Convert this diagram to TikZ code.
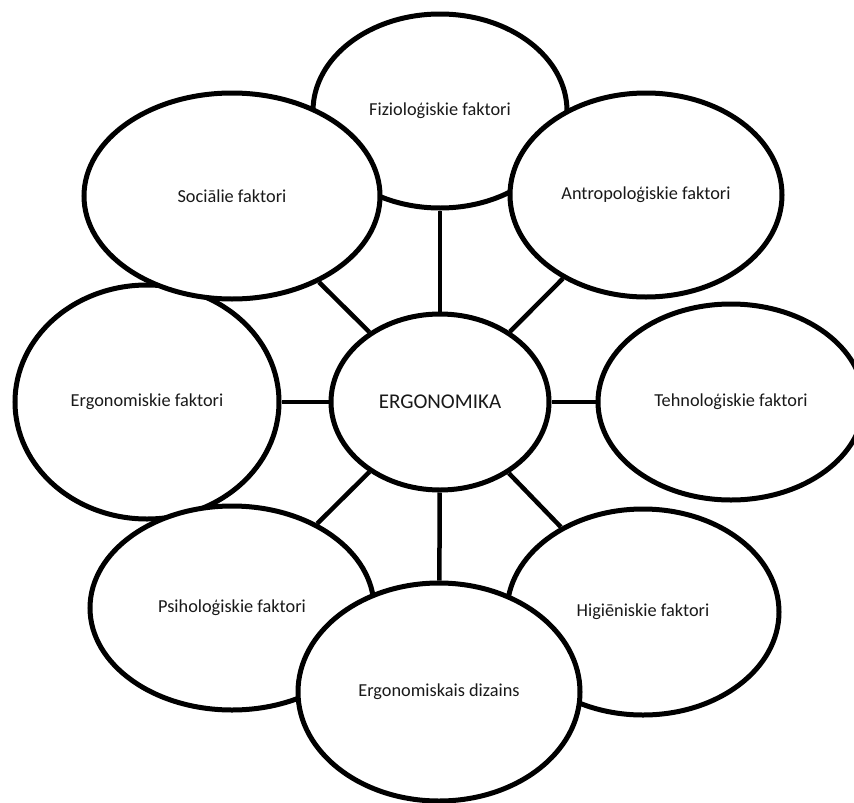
\documentclass[tikz,border=0pt]{standalone}
\usepackage{fontspec}
\setmainfont{Carlito}
\usetikzlibrary{shapes.geometric,backgrounds}
\tikzset{
  bubble/.style={ellipse, draw=black, fill=white, line width=5pt, inner sep=0pt,
    font=\fontsize{18.3}{22}\selectfont, text=black!90},
  hub/.style={font=\fontsize{21}{25}\selectfont},
  link/.style={draw=black, line width=4.5pt},
}
\newcommand{\bub}[7][]{\node[bubble, #1, minimum width=#5pt, minimum height=#6pt] (#2) at (#3,#4) {#7};}
\begin{document}
\begin{tikzpicture}[x=1pt,y=-1pt]
\useasboundingbox (0,0) rectangle (854,803);
\clip (0,0) rectangle (854,803);
\bub{fiz}{440}{111}{254}{194}{Fizioloģiskie faktori}
\bub{erg}{147}{402}{264}{234}{Ergonomiskie faktori}
\bub{soc}{232}{196}{296}{206}{Sociālie faktori}
\bub{ant}{646}{195}{272}{204}{Antropoloģiskie faktori}
\bub{teh}{731}{402}{266}{196}{Tehnoloģiskie faktori}
\bub{psi}{232}{608}{284}{204}{Psiholoģiskie faktori}
\bub{hig}{643}{612}{272}{206}{Higiēniskie faktori}
\bub{diz}{439}{692}{282}{218}{Ergonomiskais dizains}
\bub[hub]{c}{440}{402}{218}{176}{ERGONOMIKA}
\begin{scope}[on background layer]
\foreach \t in {fiz,erg,soc,ant,teh,psi,hig,diz}{\draw[link] (c) -- (\t);}
\end{scope}
\end{tikzpicture}
\end{document}
